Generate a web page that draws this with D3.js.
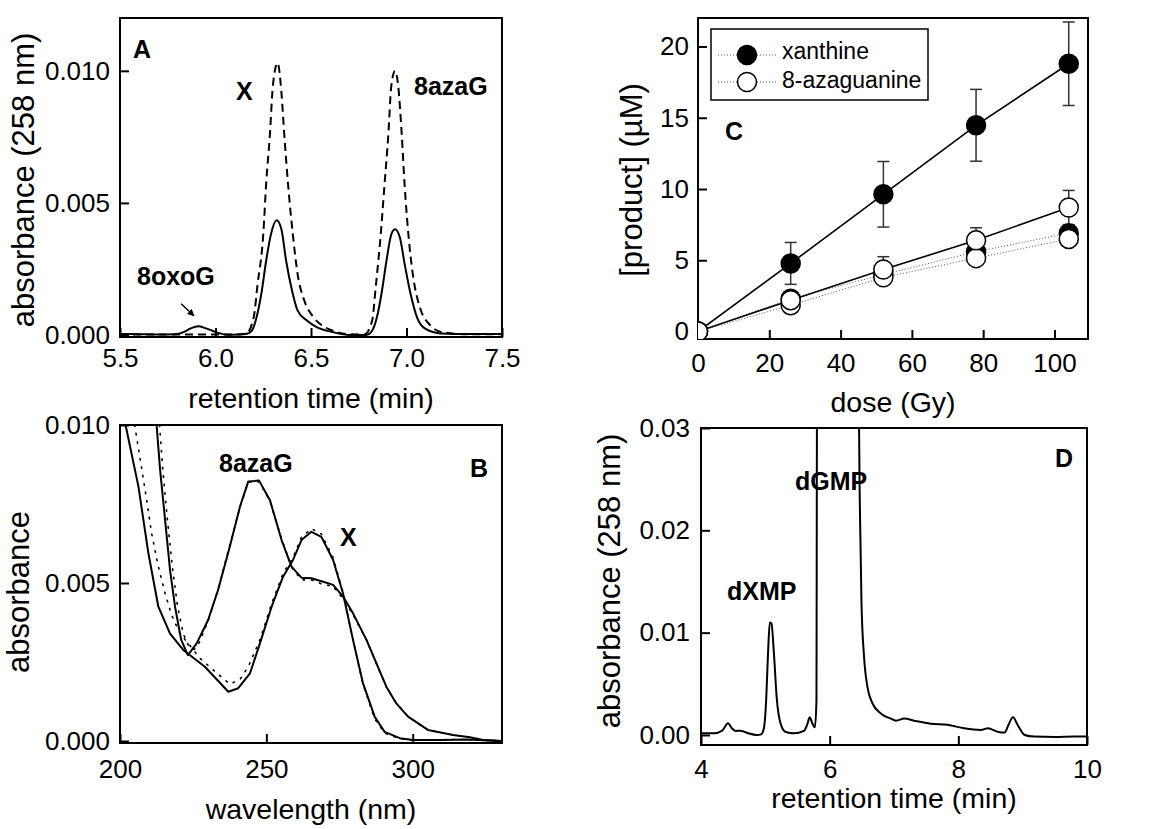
<!DOCTYPE html>
<html>
<head>
<meta charset="utf-8">
<script src="https://cdn.jsdelivr.net/npm/d3@7"></script>
<style>
  body { margin: 0; background: #fff; }
  svg text { font-family: Arial, "Liberation Sans", sans-serif; fill: #000; }
</style>
</head>
<body>
<svg id="fig" width="1154" height="829"></svg>
<script>
// ---- panel A: HPLC trace, retention time (min) vs absorbance ----
var traceASolid = [
  [5.50, 0.00004], [5.60, 0.00003], [5.70, 0.00002], [5.79, 0.00003], [5.83, 0.0001], [5.87, 0.00025],
  [5.91, 0.00033], [5.95, 0.00025], [6.01, 0.00009], [6.06, 0.00001], [6.12, 0.00002], [6.16, 0.00004],
  [6.19, 0.00016], [6.215, 0.00067], [6.24, 0.00156], [6.265, 0.0028], [6.29, 0.0038], [6.32, 0.00434],
  [6.345, 0.0040], [6.37, 0.0028], [6.40, 0.0017], [6.43, 0.00092], [6.48, 0.00054], [6.53, 0.0003],
  [6.62, 0.0001], [6.70, 0.0], [6.79, 0.0], [6.82, 0.00016], [6.845, 0.00067], [6.87, 0.0016],
  [6.895, 0.0028], [6.92, 0.0038], [6.94, 0.0040], [6.965, 0.0037], [6.99, 0.0027], [7.02, 0.0016],
  [7.055, 0.00067], [7.10, 0.00023], [7.18, 0.00006], [7.32, 0.00004], [7.50, 0.00004]
];
var traceADashed = [
  [5.50, 0.00002], [6.10, 0.00002], [6.16, 0.00005], [6.20, 0.00067], [6.22, 0.0019], [6.25, 0.0038],
  [6.265, 0.0057], [6.285, 0.0076], [6.30, 0.0094], [6.325, 0.0103], [6.345, 0.0092], [6.36, 0.0076],
  [6.38, 0.0057], [6.405, 0.0038], [6.43, 0.0023], [6.465, 0.0013], [6.51, 0.0007], [6.56, 0.00035],
  [6.62, 0.00015], [6.70, 0.00003], [6.78, 0.00002], [6.82, 0.00054], [6.84, 0.0019], [6.865, 0.0038],
  [6.885, 0.0057], [6.905, 0.0076], [6.92, 0.0094], [6.94, 0.0100], [6.957, 0.0094], [6.975, 0.0076],
  [6.99, 0.0057], [7.01, 0.0038], [7.035, 0.0022], [7.07, 0.00105], [7.12, 0.0004], [7.19, 0.0001],
  [7.32, 0.00003], [7.50, 0.00003]
];
var ticksAX = [5.5, 6.0, 6.5, 7.0, 7.5];
var ticksAY = [0, 0.005, 0.010];

// ---- panel B: UV spectra, wavelength (nm) vs absorbance ----
var spectrumX = [
  [201.9, 0.0100], [206.3, 0.00805], [209.7, 0.00594], [213.1, 0.00425], [217.1, 0.0034], [221.6, 0.00288],
  [229.0, 0.00235], [237.0, 0.00156], [240.4, 0.00167], [244.4, 0.00214], [247.8, 0.00309], [251.8, 0.00425],
  [255.7, 0.0052], [259.1, 0.00573], [262.0, 0.00636], [265.4, 0.00662], [268.8, 0.00646], [272.8, 0.00573],
  [276.2, 0.00467], [279.6, 0.0032], [283.0, 0.00183], [287.0, 0.00077], [290.4, 0.00029], [295.6, 0.00009],
  [300.1, 0.00003], [310.0, 0.00003], [318.3, 0.00005], [330.0, 0.0]
];
var spectrum8azaG = [
  [212.5, 0.0100], [213.7, 0.00858], [215.4, 0.0070], [217.1, 0.00541], [218.8, 0.00425], [220.9, 0.0032],
  [223.2, 0.00272], [226.2, 0.00309], [230.1, 0.00383], [233.5, 0.00478], [237.5, 0.00615], [241.0, 0.00742],
  [243.8, 0.00821], [247.5, 0.00824], [251.2, 0.00763], [255.2, 0.00636], [258.6, 0.00552], [262.0, 0.00517],
  [265.4, 0.00515], [269.4, 0.00504], [272.8, 0.00494], [276.2, 0.00457], [279.6, 0.00404], [284.2, 0.0032],
  [287.6, 0.00246], [291.0, 0.00172], [294.4, 0.00119], [298.4, 0.00077], [305.2, 0.00035], [313.8, 0.00019],
  [319.5, 0.00012], [324.0, 0.00003], [330.3, 0.0]
];
var spectrumXDotted = [
  [205.0, 0.0100], [207.4, 0.00863], [209.1, 0.00763], [210.8, 0.00657], [213.1, 0.00552], [215.4, 0.00467],
  [217.6, 0.00399], [220.5, 0.0034], [223.3, 0.00309], [227.3, 0.00262], [231.8, 0.00225], [237.5, 0.0018],
  [241.0, 0.00195], [243.8, 0.00235], [247.8, 0.0032], [251.8, 0.00435], [255.7, 0.0053], [259.1, 0.0058],
  [262.0, 0.00645], [265.4, 0.00672], [268.8, 0.00655], [272.8, 0.0058], [276.2, 0.0047], [279.6, 0.0032],
  [283.0, 0.0018], [287.0, 0.0007], [290.4, 0.00025], [295.6, 0.00007], [300.0, 0.00003], [318.0, 0.00005],
  [330.0, 0.0]
];
var spectrum8azaGDotted = [
  [213.5, 0.0100], [214.6, 0.0086], [216.2, 0.0070], [217.9, 0.0055], [219.6, 0.0043], [221.6, 0.0034],
  [223.5, 0.0030], [225.4, 0.0029], [227.0, 0.0031], [230.1, 0.0038], [233.5, 0.0048], [237.5, 0.0062],
  [241.0, 0.0074], [243.8, 0.0082], [247.5, 0.0082], [251.2, 0.0076], [255.2, 0.0064], [258.6, 0.0055],
  [262.0, 0.0051], [265.4, 0.0051], [269.4, 0.00495], [272.8, 0.0049], [276.2, 0.0045], [279.6, 0.0040],
  [284.2, 0.0032], [287.6, 0.00245], [291.0, 0.0017], [294.4, 0.0012], [298.4, 0.00077], [305.2, 0.00035],
  [313.8, 0.00019], [319.5, 0.00012], [324.0, 0.00003], [330.3, 0.0]
];
var ticksBX = [200, 250, 300];
var ticksBY = [0, 0.005, 0.010];

// ---- panel C: product vs dose ----
var doses = [0, 26, 52, 78, 104];
var xanthine = [0, 2.3, 4.0, 5.6, 6.9];
var azaguanine = [0, 1.85, 3.8, 5.15, 6.5];
var xanthineSolid = [0, 4.78, 9.63, 14.47, 18.79];
var xanthineSolidErr = [0, 1.47, 2.3, 2.52, 2.93];
var azaguanineSolid = [0, 2.2, 4.35, 6.4, 8.7];
var azaguanineSolidErr = [0, 0.45, 0.9, 0.88, 1.2];
var ticksCX = [0, 20, 40, 60, 80, 100];
var ticksCY = [0, 5, 10, 15, 20];

// ---- panel D: HPLC trace of dGMP sample ----
var traceD = [
  [4.00, 0.00016], [4.20, 0.00016], [4.33, 0.00042], [4.42, 0.00114], [4.48, 0.00065], [4.535, 0.0004],
  [4.61, 0.00042], [4.72, 0.0002], [4.87, 0.0], [4.935, 0.00006], [4.977, 0.00065], [5.013, 0.0034],
  [5.044, 0.0083], [5.07, 0.011], [5.096, 0.0109], [5.13, 0.0083], [5.18, 0.0034], [5.236, 0.00114],
  [5.31, 0.00032], [5.44, 0.00016], [5.60, 0.0004], [5.65, 0.001], [5.69, 0.00172], [5.73, 0.00114],
  [5.77, 0.00075], [5.795, 0.0034], [5.80, 0.0229], [5.805, 0.04], [6.10, 0.06], [6.45, 0.04],
  [6.457, 0.0299], [6.468, 0.0229], [6.494, 0.0131], [6.535, 0.0076], [6.587, 0.0047], [6.665, 0.0031],
  [6.795, 0.0021], [6.95, 0.0016], [7.03, 0.0014], [7.16, 0.0016], [7.31, 0.0014], [7.57, 0.0011],
  [7.83, 0.001], [8.09, 0.00065], [8.35, 0.00049], [8.46, 0.00065], [8.61, 0.00032], [8.72, 0.00023],
  [8.78, 0.001], [8.85, 0.00172], [8.92, 0.001], [9.03, 0.0], [9.18, -0.00016], [9.50, -0.0002],
  [9.81, -0.00016], [10.0, -0.00016]
];
var ticksDX = [4, 6, 8, 10];
var ticksDY = [0, 0.01, 0.02, 0.03];

var svg = d3.select('#fig');
var defs = svg.append('defs');

defs.append('marker')
  .attr('id', 'arrowhead')
  .attr('viewBox', '0 0 10 10')
  .attr('refX', 9)
  .attr('refY', 5)
  .attr('markerWidth', 7)
  .attr('markerHeight', 7)
  .attr('markerUnits', 'userSpaceOnUse')
  .attr('orient', 'auto')
  .append('path')
  .attr('d', 'M0,0 L10,5 L0,10 z')
  .attr('fill', '#000');

function makePanel(cfg) {
  var g = svg.append('g').attr('class', 'panel-' + cfg.id);
  var x = d3.scaleLinear().domain(cfg.xDomain).range([cfg.left, cfg.right]);
  var y = d3.scaleLinear().domain(cfg.yDomain).range([cfg.bottom, cfg.top]);

  defs.append('clipPath')
    .attr('id', 'clip-' + cfg.id)
    .append('rect')
    .attr('x', cfg.left)
    .attr('y', cfg.top)
    .attr('width', cfg.right - cfg.left)
    .attr('height', cfg.bottom - cfg.top);

  var xAxis = g.append('g')
    .attr('transform', 'translate(0,' + cfg.bottom + ')')
    .call(d3.axisBottom(x)
      .tickValues(cfg.xTicks)
      .tickFormat(d3.format(cfg.xFmt))
      .tickSizeInner(-9)
      .tickSizeOuter(0)
      .tickPadding(cfg.xPad));

  var yAxis = g.append('g')
    .attr('transform', 'translate(' + cfg.left + ',0)')
    .call(d3.axisLeft(y)
      .tickValues(cfg.yTicks)
      .tickFormat(d3.format(cfg.yFmt))
      .tickSizeInner(-9)
      .tickSizeOuter(0)
      .tickPadding(cfg.yPad));

  [xAxis, yAxis].forEach(function (ax) {
    ax.select('.domain').remove();
    ax.attr('font-size', null).attr('font-family', null);
    ax.selectAll('line').attr('stroke-width', 2);
    ax.selectAll('text').style('font-size', '26px');
  });

  g.append('rect')
    .attr('x', cfg.left)
    .attr('y', cfg.top)
    .attr('width', cfg.right - cfg.left)
    .attr('height', cfg.bottom - cfg.top)
    .attr('fill', 'none')
    .attr('stroke', '#000')
    .attr('stroke-width', 2);

  g.append('text')
    .attr('x', (cfg.left + cfg.right) / 2)
    .attr('y', cfg.xTitleY)
    .attr('text-anchor', 'middle')
    .style('font-size', '28.5px')
    .text(cfg.xTitle);

  g.append('text')
    .attr('transform', 'translate(' + cfg.yTitleX + ',' + cfg.yTitleCY + ') rotate(-90)')
    .attr('text-anchor', 'middle')
    .style('font-size', '31px')
    .text(cfg.yTitle);

  var plot = g.append('g').attr('clip-path', 'url(#clip-' + cfg.id + ')');
  return { g: g, plot: plot, x: x, y: y };
}

function boldLabel(g, px, py, txt) {
  g.append('text')
    .attr('x', px)
    .attr('y', py)
    .style('font-size', '25px')
    .style('font-weight', 'bold')
    .text(txt);
}

function drawTrace(p, data, curve, width, dash) {
  var line = d3.line()
    .x(function (d) { return p.x(d[0]); })
    .y(function (d) { return p.y(d[1]); })
    .curve(curve);
  var path = p.plot.append('path')
    .datum(data)
    .attr('d', line)
    .attr('fill', 'none')
    .attr('stroke', '#000')
    .attr('stroke-width', width)
    .attr('stroke-linejoin', 'round');
  if (dash) {
    path.attr('stroke-dasharray', dash);
  }
  return path;
}

// panel A
var pA = makePanel({
  id: 'A', left: 120, right: 502, top: 18, bottom: 337,
  xDomain: [5.5, 7.5], yDomain: [-0.000076, 0.0120],
  xTicks: ticksAX, yTicks: ticksAY, xFmt: '.1f', yFmt: '.3f', xPad: 12, yPad: 10,
  xTitle: 'retention time (min)', xTitleY: 408,
  yTitle: 'absorbance (258 nm)', yTitleX: 34, yTitleCY: 180
});
drawTrace(pA, traceADashed, d3.curveMonotoneX, 2, '8,5');
drawTrace(pA, traceASolid, d3.curveMonotoneX, 2);
pA.g.append('line')
  .attr('x1', pA.x(5.82)).attr('y1', pA.y(0.00118))
  .attr('x2', pA.x(5.887)).attr('y2', pA.y(0.00073))
  .attr('stroke', '#000')
  .attr('stroke-width', 1.5)
  .attr('marker-end', 'url(#arrowhead)');
boldLabel(pA.g, 133, 58, 'A');
boldLabel(pA.g, 236, 100, 'X');
boldLabel(pA.g, 414, 95, '8azaG');
boldLabel(pA.g, 137, 285, '8oxoG');

// panel B
var pB = makePanel({
  id: 'B', left: 120, right: 502, top: 425, bottom: 743,
  xDomain: [200, 330.5], yDomain: [-0.000063, 0.010],
  xTicks: ticksBX, yTicks: ticksBY, xFmt: 'd', yFmt: '.3f', xPad: 17, yPad: 10,
  xTitle: 'wavelength (nm)', xTitleY: 819,
  yTitle: 'absorbance', yTitleX: 29, yTitleCY: 592
});
drawTrace(pB, spectrumXDotted, d3.curveLinear, 1.6, '1.5,7').attr('stroke-linecap', 'round');
drawTrace(pB, spectrum8azaGDotted, d3.curveLinear, 1.6, '1.5,7').attr('stroke-linecap', 'round');
drawTrace(pB, spectrumX, d3.curveLinear, 2);
drawTrace(pB, spectrum8azaG, d3.curveLinear, 2);
boldLabel(pB.g, 219, 472, '8azaG');
boldLabel(pB.g, 340, 546, 'X');
boldLabel(pB.g, 470, 477, 'B');

// panel C
var pC = makePanel({
  id: 'C', left: 698, right: 1088, top: 18, bottom: 339,
  xDomain: [0, 109.4], yDomain: [-0.525, 22],
  xTicks: ticksCX, yTicks: ticksCY, xFmt: 'd', yFmt: 'd', xPad: 15, yPad: 9,
  xTitle: 'dose (Gy)', xTitleY: 412,
  yTitle: '[product] (\u00b5M)', yTitleX: 642, yTitleCY: 180
});

function seriesPoints(vals, errs) {
  return doses.map(function (d, i) {
    return { dose: d, value: vals[i], err: errs ? errs[i] : 0 };
  });
}

var cSeries = [
  { pts: seriesPoints(xanthine), fill: '#000', dotted: true },
  { pts: seriesPoints(azaguanine), fill: '#fff', dotted: true },
  { pts: seriesPoints(xanthineSolid, xanthineSolidErr), fill: '#000', dotted: false },
  { pts: seriesPoints(azaguanineSolid, azaguanineSolidErr), fill: '#fff', dotted: false }
];

var cLine = d3.line()
  .x(function (d) { return pC.x(d.dose); })
  .y(function (d) { return pC.y(d.value); });

cSeries.forEach(function (s) {
  var path = pC.plot.append('path')
    .datum(s.pts)
    .attr('d', cLine)
    .attr('fill', 'none');
  if (s.dotted) {
    path.attr('stroke', '#555').attr('stroke-width', 1).attr('stroke-dasharray', '1,2');
  } else {
    path.attr('stroke', '#000').attr('stroke-width', 1.6);
  }
});

// error bars behind the markers
cSeries.forEach(function (s) {
  var bars = pC.plot.append('g')
    .selectAll('g')
    .data(s.pts.filter(function (d) { return d.err > 0; }))
    .enter().append('g')
    .attr('stroke', '#333')
    .attr('stroke-width', 1.5);
  bars.append('line')
    .attr('x1', function (d) { return pC.x(d.dose); })
    .attr('x2', function (d) { return pC.x(d.dose); })
    .attr('y1', function (d) { return pC.y(d.value - d.err); })
    .attr('y2', function (d) { return pC.y(d.value + d.err); });
  [-1, 1].forEach(function (sign) {
    bars.append('line')
      .attr('x1', function (d) { return pC.x(d.dose) - 6; })
      .attr('x2', function (d) { return pC.x(d.dose) + 6; })
      .attr('y1', function (d) { return pC.y(d.value + sign * d.err); })
      .attr('y2', function (d) { return pC.y(d.value + sign * d.err); });
  });
});

cSeries.forEach(function (s) {
  pC.plot.append('g')
    .selectAll('circle')
    .data(s.pts)
    .enter().append('circle')
    .attr('cx', function (d) { return pC.x(d.dose); })
    .attr('cy', function (d) { return pC.y(d.value); })
    .attr('r', 9.5)
    .attr('fill', s.fill)
    .attr('stroke', '#000')
    .attr('stroke-width', 1.5);
});

// legend
var legend = pC.g.append('g');
legend.append('rect')
  .attr('x', 711).attr('y', 29)
  .attr('width', 217).attr('height', 71)
  .attr('fill', '#fff')
  .attr('stroke', '#000')
  .attr('stroke-width', 1.5);
[{ label: 'xanthine', fill: '#000', cy: 55, ty: 59 },
 { label: '8-azaguanine', fill: '#fff', cy: 82, ty: 88 }].forEach(function (item) {
  legend.append('line')
    .attr('x1', 718).attr('x2', 777)
    .attr('y1', item.cy).attr('y2', item.cy)
    .attr('stroke', '#555')
    .attr('stroke-width', 1)
    .attr('stroke-dasharray', '1,2');
  legend.append('circle')
    .attr('cx', 747).attr('cy', item.cy).attr('r', 9.5)
    .attr('fill', item.fill)
    .attr('stroke', '#000')
    .attr('stroke-width', 1.5);
  legend.append('text')
    .attr('x', 782).attr('y', item.ty)
    .style('font-size', '23px')
    .text(item.label);
});
boldLabel(pC.g, 725, 140, 'C');

// panel D
var pD = makePanel({
  id: 'D', left: 701, right: 1087, top: 428, bottom: 745,
  xDomain: [4, 10], yDomain: [-0.00098, 0.03],
  xTicks: ticksDX, yTicks: ticksDY, xFmt: 'd', yFmt: '.2f', xPad: 15, yPad: 11,
  xTitle: 'retention time (min)', xTitleY: 808,
  yTitle: 'absorbance (258 nm)', yTitleX: 620, yTitleCY: 581
});
drawTrace(pD, traceD, d3.curveMonotoneX, 2);
boldLabel(pD.g, 1055, 467, 'D');
boldLabel(pD.g, 795, 490, 'dGMP');
boldLabel(pD.g, 727, 600, 'dXMP');
</script>
</body>
</html>
